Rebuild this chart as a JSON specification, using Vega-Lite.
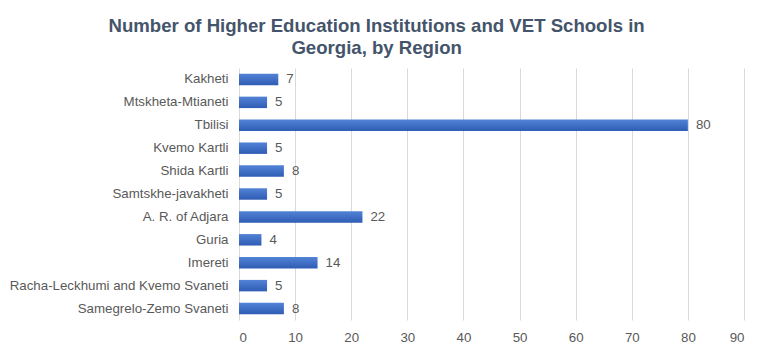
{
  "$schema": "https://vega.github.io/schema/vega-lite/v6.json",
  "autosize": {"type": "none"},
  "width": 505,
  "height": 252,
  "padding": {"left": 239, "top": 68, "right": 23, "bottom": 33},
  "background": "white",
  "title": {
    "text": ["Number of Higher Education Institutions and VET Schools in", "Georgia, by Region"],
    "anchor": "middle",
    "frame": "bounds",
    "font": "Liberation Sans",
    "fontSize": 18.6,
    "fontWeight": "bold",
    "color": "#44546A",
    "lineHeight": 22,
    "offset": 10
  },
  "data": {
    "values": [
      {"region": "Kakheti", "count": 7},
      {"region": "Mtskheta-Mtianeti", "count": 5},
      {"region": "Tbilisi", "count": 80},
      {"region": "Kvemo Kartli", "count": 5},
      {"region": "Shida Kartli", "count": 8},
      {"region": "Samtskhe-javakheti", "count": 5},
      {"region": "A. R. of Adjara", "count": 22},
      {"region": "Guria", "count": 4},
      {"region": "Imereti", "count": 14},
      {"region": "Racha-Leckhumi and Kvemo Svaneti", "count": 5},
      {"region": "Samegrelo-Zemo Svaneti", "count": 8}
    ]
  },
  "encoding": {
    "y": {
      "field": "region",
      "type": "nominal",
      "sort": null,
      "scale": {"paddingInner": 0.5, "paddingOuter": 0.25},
      "axis": {
        "title": null,
        "domain": false,
        "ticks": false,
        "labelPadding": 11,
        "labelLimit": 0,
        "labelFont": "Liberation Sans",
        "labelFontSize": 13.3,
        "labelColor": "#595959"
      }
    },
    "x": {
      "field": "count",
      "type": "quantitative",
      "scale": {"domain": [0, 90]},
      "axis": {
        "title": null,
        "values": [0, 10, 20, 30, 40, 50, 60, 70, 80, 90],
        "domain": false,
        "ticks": false,
        "grid": true,
        "gridColor": "#D9D9D9",
        "gridWidth": 1,
        "labelPadding": 10,
        "labelFont": "Liberation Sans",
        "labelFontSize": 13.3,
        "labelColor": "#595959"
      }
    }
  },
  "layer": [
    {
      "mark": {
        "type": "bar",
        "color": {
          "gradient": "linear",
          "x1": 0, "y1": 0, "x2": 0, "y2": 1,
          "stops": [
            {"offset": 0, "color": "#5283D6"},
            {"offset": 1, "color": "#2F5CB4"}
          ]
        }
      }
    },
    {
      "mark": {
        "type": "text",
        "align": "left",
        "baseline": "middle",
        "dx": 8,
        "font": "Liberation Sans",
        "fontSize": 13.3,
        "color": "#595959"
      },
      "encoding": {"text": {"field": "count", "type": "quantitative"}}
    }
  ],
  "config": {"view": {"stroke": null}}
}
